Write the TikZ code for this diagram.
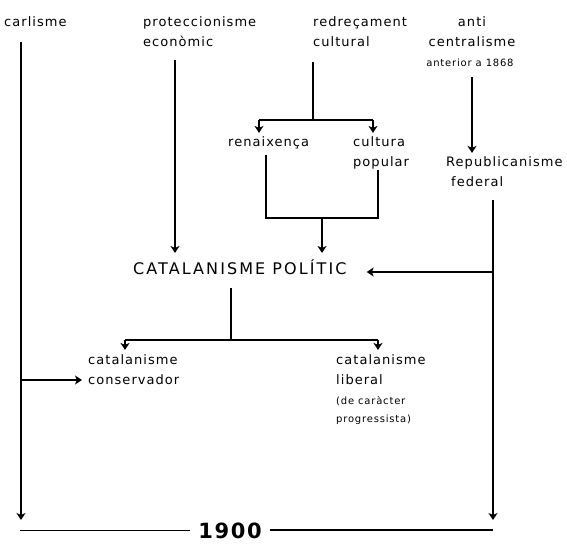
\documentclass[tikz,border=0pt]{standalone}
\usepackage{fontspec}
\setmainfont{DejaVu Sans}[LetterSpace=8]
\usetikzlibrary{arrows.meta, positioning}

\begin{document}
\begin{tikzpicture}[x=1pt, y=-1pt,
    >={Stealth[length=7pt, width=9pt, inset=2pt]},
    lbl/.style={anchor=base west, inner sep=0pt, align=left, font=\fontsize{13}{20}\selectfont},
    note/.style={anchor=base west, inner sep=0pt, align=left, font=\fontsize{10}{18}\selectfont},
    big/.style={anchor=base west, inner sep=0pt, font=\fontsize{16}{18}\selectfont\addfontfeature{LetterSpace=13}},
    year/.style={anchor=base, inner xsep=8pt, inner ysep=0pt, font=\fontsize{21}{24}\selectfont\bfseries},
    link/.style={line width=1.3pt},
    bar/.style={line width=1.8pt}
  ]
  \useasboundingbox (0,0) rectangle (567,553);

  % roots (multi-line nodes sit on the baseline of their last line)
  \node[lbl] (carl) at (4,27) {carlisme};
  \node[lbl] (prot) at (143,47) {proteccionisme\\econòmic};
  \node[lbl] (redr) at (313,47) {redreçament\\cultural};
  \node[lbl, anchor=base, align=center] (anti) at (472,47) {anti\\centralisme};
  \node[note, anchor=base] (antinote) at (470,67) {anterior a 1868};

  % middle level
  \node[lbl] (renai) at (228,147) {renaixença};
  \node[lbl] (cultpop) at (353,167) {cultura\\popular};
  \node[lbl] (repub) at (446,187) {Republicanisme\\\hspace{5pt}federal};
  \node[big] (catpol) at (133,274) {CATALANISME POLÍTIC};

  % results
  \node[lbl] (catcons) at (88,384) {catalanisme\\conservador};
  \node[lbl] (catlib) at (336,384) {catalanisme\\liberal};
  \node[note] (catlibnote) at (336,422) {(de caràcter\\progressista)};
  \node[year] (yr) at (230,538) {1900};

  % junctions
  \coordinate (redrJ) at (313,120);
  \coordinate (renaiJ) at (259,120);
  \coordinate (cultJ) at (373,120);
  \coordinate (renaiC) at (266,218);
  \coordinate (cultC) at (378,218);
  \coordinate (popJ) at (322,218);
  \coordinate (polJ) at (231,340);
  \coordinate (consJ) at (125,340);
  \coordinate (libJ) at (378,340);
  \coordinate (carlJ) at (21,380);
  \coordinate (repJ) at (493,272);
  \coordinate (carlEnd) at (21,520);
  \coordinate (repEnd) at (493,520);
  \coordinate (yrL) at (20,0);
  \coordinate (yrR) at (493,0);

  % carlisme
  \draw[link, ->, shorten <=15pt] (carl.south -| carlEnd) -- (carlEnd);
  \draw[link, ->, shorten >=6pt] (carlJ) -- (carlJ -| catcons.west);

  % proteccionisme
  \draw[link, ->, shorten <=13pt, shorten >=6pt] (prot.south -| 175,0) -- (catpol.north -| 175,0);

  % redrecament
  \draw[link, shorten <=15pt] (redr.south -| redrJ) -- (redrJ);
  \draw[bar] (renaiJ) -- (cultJ);
  \draw[link, ->, shorten >=4pt] (renaiJ) -- (renaiJ |- renai.north);
  \draw[link, ->, shorten >=4pt] (cultJ) -- (cultJ |- cultpop.north);

  % renaixenca + cultura popular
  \draw[bar, shorten <=5pt] (renai.south -| renaiC) -- (renaiC) -- (cultC) -- (cultpop.south -| cultC);
  \draw[link, ->, shorten >=6pt] (popJ) -- (popJ |- catpol.north);

  % anticentralisme
  \draw[link, ->, shorten <=10pt, shorten >=4pt] (antinote.south -| anti) -- (anti |- repub.north);

  % republicanisme
  \draw[bar, ->, shorten <=13pt] (repub.south -| repEnd) -- (repEnd);
  \draw[link, ->, shorten >=20pt] (repJ) -- (catpol.east |- repJ);

  % catalanisme politic
  \draw[bar, shorten <=14pt] (catpol.south -| polJ) -- (polJ);
  \draw[bar] (consJ) -- (libJ);
  \draw[link, ->, shorten >=4pt] (consJ) -- (consJ |- catcons.north);
  \draw[link, ->, shorten >=4pt] (libJ) -- (libJ |- catlib.north);

  % 1900
  \draw[link] (yr.west) -- (yr.west -| yrL);
  \draw[bar] (yr.east) -- (yr.east -| yrR);
\end{tikzpicture}
\end{document}
